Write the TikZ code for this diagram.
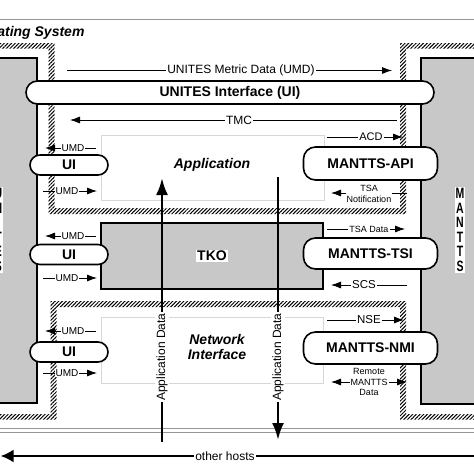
\documentclass[tikz,border=0pt]{standalone}
\usepackage{fontspec}
\setmainfont{Liberation Sans}
\newfontfamily\tallfont[FakeStretch=0.7]{Liberation Sans}
\usetikzlibrary{arrows.meta,patterns.meta}
\definecolor{hostgray}{RGB}{200,200,200}
\definecolor{framegray}{RGB}{150,150,150}
\definecolor{areagray}{RGB}{215,215,215}
\tikzset{
  iface/.style={draw,line width=1.6pt,fill=white,rounded corners=10pt,
    inner sep=0pt,font=\bfseries\fontsize{14}{16}\selectfont},
  host/.style={draw,line width=1.6pt,fill=hostgray},
  area/.style={draw=areagray,line width=0.8pt},
  hatch/.style={pattern={Lines[angle=45,distance=2.6pt,line width=1pt]}},
  lbl/.style={fill=white,inner sep=1pt,font=\fontsize{12}{14}\selectfont},
  umd/.style={lbl,font=\fontsize{10}{12}\selectfont},
  note/.style={lbl,align=center,font=\fontsize{9}{10.5}\selectfont},
  letters/.style={fill=white,inner sep=1pt,align=center,
    font=\tallfont\bfseries\fontsize{15}{14.6}\selectfont},
  heading/.style={align=center,font=\bfseries\itshape\fontsize{14}{15}\selectfont},
}
\begin{document}
\begin{tikzpicture}[x=1pt,y=-1pt,>={Latex[length=10pt,width=7pt]}]
  \useasboundingbox (0,0) rectangle (474,474);
  \clip (0,0) rectangle (474,474);
  % operating system frame
  \draw[framegray,line width=0.8pt] (-5,19) -- (480,19)
    (-5,428) -- (480,428) (-5,432) -- (480,432);
  \node[heading,anchor=base east] (os) at (88,36) {Operating System};
  % hosts
  \draw[host] (-10,58) rectangle (37,403);
  \draw[host] (421,58) rectangle (484,404);
  \node[letters] (unites) at (-1.5,230) {U\\N\\I\\T\\E\\S};
  \node[letters] (mantts) at (460,230) {M\\A\\N\\T\\T\\S};
  % hatched boundaries
  \fill[hatch] (-5,43) rectangle (54.5,48.5) (48.5,43) rectangle (54.5,214)
    (48.5,208) rectangle (406,214) (400,43) rectangle (406,214)
    (400,43) rectangle (480,48.5);
  \fill[hatch] (-5,414) rectangle (56.5,419.5) (50.5,301) rectangle (56.5,419.5)
    (50.5,301) rectangle (406,307) (400,301) rectangle (406,419.5)
    (400,414) rectangle (480,419.5);
  % areas
  \draw[area] (101,135) rectangle (324,200);
  \draw[area] (101,317) rectangle (323,383);
  \draw[host] (101,223) rectangle (323,289);
  \node[heading] (app) at (212,165) {Application};
  \node[heading] (net) at (217,347) {Network\\Interface};
  \node[fill=white,inner sep=1.5pt,font=\bfseries\fontsize{14}{16}\selectfont]
    (tko) at (212,256) {TKO};
  % interfaces
  \node[iface,minimum width=408pt,minimum height=23pt,rounded corners=11.5pt]
    (ui) at (230,92.5) {UNITES Interface (UI)};
  \node[iface,minimum width=78pt,minimum height=20pt] (ui1) at (69,165) {UI};
  \node[iface,minimum width=78pt,minimum height=20pt] (ui2) at (69,254.5) {UI};
  \node[iface,minimum width=78pt,minimum height=20pt] (ui3) at (69,352) {UI};
  \node[iface,minimum width=134pt,minimum height=33pt,rounded corners=12pt]
    (api) at (370.5,163.5) {MANTTS-API};
  \node[iface,minimum width=134pt,minimum height=31pt,rounded corners=12pt]
    (tsi) at (370.5,253.5) {MANTTS-TSI};
  \node[iface,minimum width=134pt,minimum height=32pt,rounded corners=12pt]
    (nmi) at (370.5,348) {MANTTS-NMI};
  % arrow ends
  \path
    (67,70.5) coordinate (m0) (392,70.5) coordinate (m1)
    (397,120) coordinate (t0) (70,120) coordinate (t1)
    (327,137) coordinate (a0) (403,137) coordinate (a1)
    (407,193) coordinate (n0) (331,193) coordinate (n1)
    (327,229) coordinate (d0) (405,229) coordinate (d1)
    (407,285) coordinate (s0) (331,285) coordinate (s1)
    (327,320) coordinate (e0) (404,320) coordinate (e1)
    (331,382) coordinate (r0) (407,382) coordinate (r1)
    (96,148) coordinate (u10) (45,148) coordinate (u11)
    (43,191) coordinate (u20) (97,191) coordinate (u21)
    (96,236) coordinate (u30) (45,236) coordinate (u31)
    (43,278) coordinate (u40) (97,278) coordinate (u41)
    (96,331) coordinate (u50) (45,331) coordinate (u51)
    (43,373) coordinate (u60) (97,373) coordinate (u61)
    (162,442) coordinate (p0) (162,178) coordinate (p1)
    (278,177) coordinate (q0) (278,440) coordinate (q1)
    (480,456) coordinate (h0) (0.5,456) coordinate (h1);
  \begin{scope}[->,line width=0.8pt]
    \draw (m0) to (m1);
    \draw (t0) to (t1);
    \draw (a0) to (a1);
    \draw (n0) to (n1);
    \draw (d0) to (d1);
    \draw (s0) to (s1);
    \draw (e0) to (e1);
    \draw[<->] (r0) to (r1);
    \draw (u10) to (u11);
    \draw (u20) to (u21);
    \draw (u30) to (u31);
    \draw (u40) to (u41);
    \draw (u50) to (u51);
    \draw (u60) to (u61);
  \end{scope}
  \begin{scope}[->,line width=2.6pt,>={Latex[length=17pt,width=12pt]}]
    \draw (p0) to (p1);
    \draw (q0) to (q1);
    \draw[>={Latex[length=13pt,width=13pt]}] (h0) to (h1);
  \end{scope}
  % labels
  \node[lbl] (metric) at (241,70.5) {UNITES Metric Data (UMD)};
  \node[lbl] (tmc) at (239,120) {TMC};
  \node[lbl,font=\fontsize{11}{13}\selectfont] (acd) at (371,137) {ACD};
  \node[note] (tsan) at (369,194) {TSA\\Notification};
  \node[note] (tsad) at (369,229) {TSA Data};
  \node[lbl,font=\fontsize{11.5}{13}\selectfont] (scs) at (364,285) {SCS};
  \node[lbl,font=\fontsize{11.5}{13}\selectfont] (nse) at (369,320) {NSE};
  \node[note] (remote) at (369,382) {Remote\\MANTTS\\Data};
  \node[umd] (umd1) at (73,148) {UMD};
  \node[umd] (umd2) at (67,191) {UMD};
  \node[umd] (umd3) at (73,236) {UMD};
  \node[umd] (umd4) at (67,278) {UMD};
  \node[umd] (umd5) at (73,331) {UMD};
  \node[umd] (umd6) at (67,373) {UMD};
  \node[lbl,rotate=90] (appd1) at (162,357) {Application Data};
  \node[lbl,rotate=90] (appd2) at (278,357) {Application Data};
  \node[lbl] (hosts) at (225,456) {other hosts};
\end{tikzpicture}
\end{document}
